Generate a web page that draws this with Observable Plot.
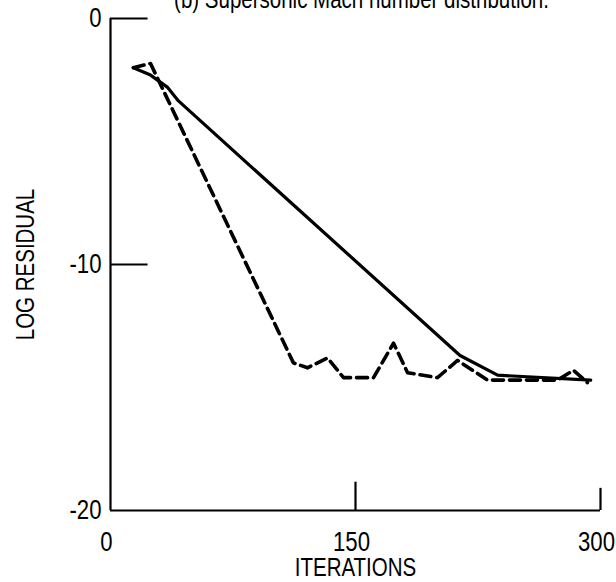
<!DOCTYPE html>
<html><head><meta charset="utf-8">
<script src="https://cdn.jsdelivr.net/npm/d3@7"></script>
<script src="https://cdn.jsdelivr.net/npm/@observablehq/plot@0.6"></script>
<style>
body{margin:0;background:#fff;overflow:hidden}
#chart{width:616px;height:582px;position:relative}
</style>
</head><body><div id="chart"></div>
<script>
const titleText = "(b) Supersonic Mach number distribution.";
const xLabel = "ITERATIONS";
const yLabel = "LOG RESIDUAL";
const xTicks = [0, 150, 300];
const yTicks = [0, -10, -20];
const xInnerTicks = [150, 300];
const yInnerTicks = [0, -10];

// solid curve
const solidIter = [14, 24.5, 35, 41.6, 214, 237, 294];
const solidRes  = [-2.0, -2.3, -2.8, -3.35, -13.7, -14.5, -14.7];

// dashed curve
const dashedIter = [14, 24.5, 112, 120.6, 132.9, 142.7, 161, 173.3, 181.9, 200.2, 212.5, 230.9, 273.7, 283.5, 292];
const dashedRes  = [-2.0, -1.83, -14.0, -14.2, -13.8, -14.6, -14.6, -13.2, -14.4, -14.6, -13.9, -14.7, -14.7, -14.3, -14.8];

const solid = solidIter.map((x, i) => ({x, y: solidRes[i]}));
const dashed = dashedIter.map((x, i) => ({x, y: dashedRes[i]}));

const font = "'Liberation Sans', Arial, sans-serif";

const plot = Plot.plot({
  width: 616,
  height: 582,
  marginLeft: 110,
  marginRight: 16,
  marginTop: 18,
  marginBottom: 72,
  style: {fontFamily: font, background: "#fff", color: "#000", overflow: "visible"},
  x: {domain: [0, 300], label: null},
  y: {domain: [-20, 0], label: null},
  marks: [
    Plot.axisX({ticks: xTicks, tickSize: 0, tickPadding: 21, dx: -4, fontSize: 27, label: null, tickFormat: d => String(d)}),
    Plot.axisY({ticks: yTicks, tickSize: 0, tickPadding: 9, fontSize: 27, label: null, tickFormat: d => String(d)}),
    Plot.ruleX([0], {y1: -20, y2: 0, stroke: "#000", strokeWidth: 2.2}),
    Plot.ruleY([-20], {x1: 0, x2: 300, stroke: "#000", strokeWidth: 2.2}),
    Plot.ruleY(yInnerTicks, {x1: 0, x2: 23, stroke: "#000", strokeWidth: 2.2}),
    Plot.ruleX(xInnerTicks, {y1: -20, y2: d => d === 300 ? -19.1 : -18.85, stroke: "#000", strokeWidth: 2.2}),
    Plot.line(solid, {x: "x", y: "y", stroke: "#000", strokeWidth: 3.2, strokeLinejoin: "round", strokeLinecap: "round"}),
    Plot.line(dashed, {x: "x", y: "y", stroke: "#000", strokeWidth: 3.6, strokeDasharray: "11,6", strokeLinejoin: "round"}),
    Plot.text([xLabel], {frameAnchor: "bottom", lineAnchor: "top", dy: 48, fontSize: 25, fill: "#000"}),
    Plot.text([yLabel], {frameAnchor: "left", textAnchor: "middle", lineAnchor: "middle", rotate: -90, dx: -85, fontSize: 25, fill: "#000"}),
    Plot.text([titleText], {frameAnchor: "top", lineAnchor: "top", dx: 6, dy: -28, fontSize: 25, fill: "#000"})
  ]
});
document.getElementById("chart").appendChild(plot);

// emulate the condensed typeface of the original by narrowing every text
plot.querySelectorAll("text").forEach(t => {
  const len = t.getComputedTextLength();
  if (len > 0) {
    t.setAttribute("textLength", (len * 0.82).toFixed(1));
    t.setAttribute("lengthAdjust", "spacingAndGlyphs");
  }
});
</script>
</body></html>
